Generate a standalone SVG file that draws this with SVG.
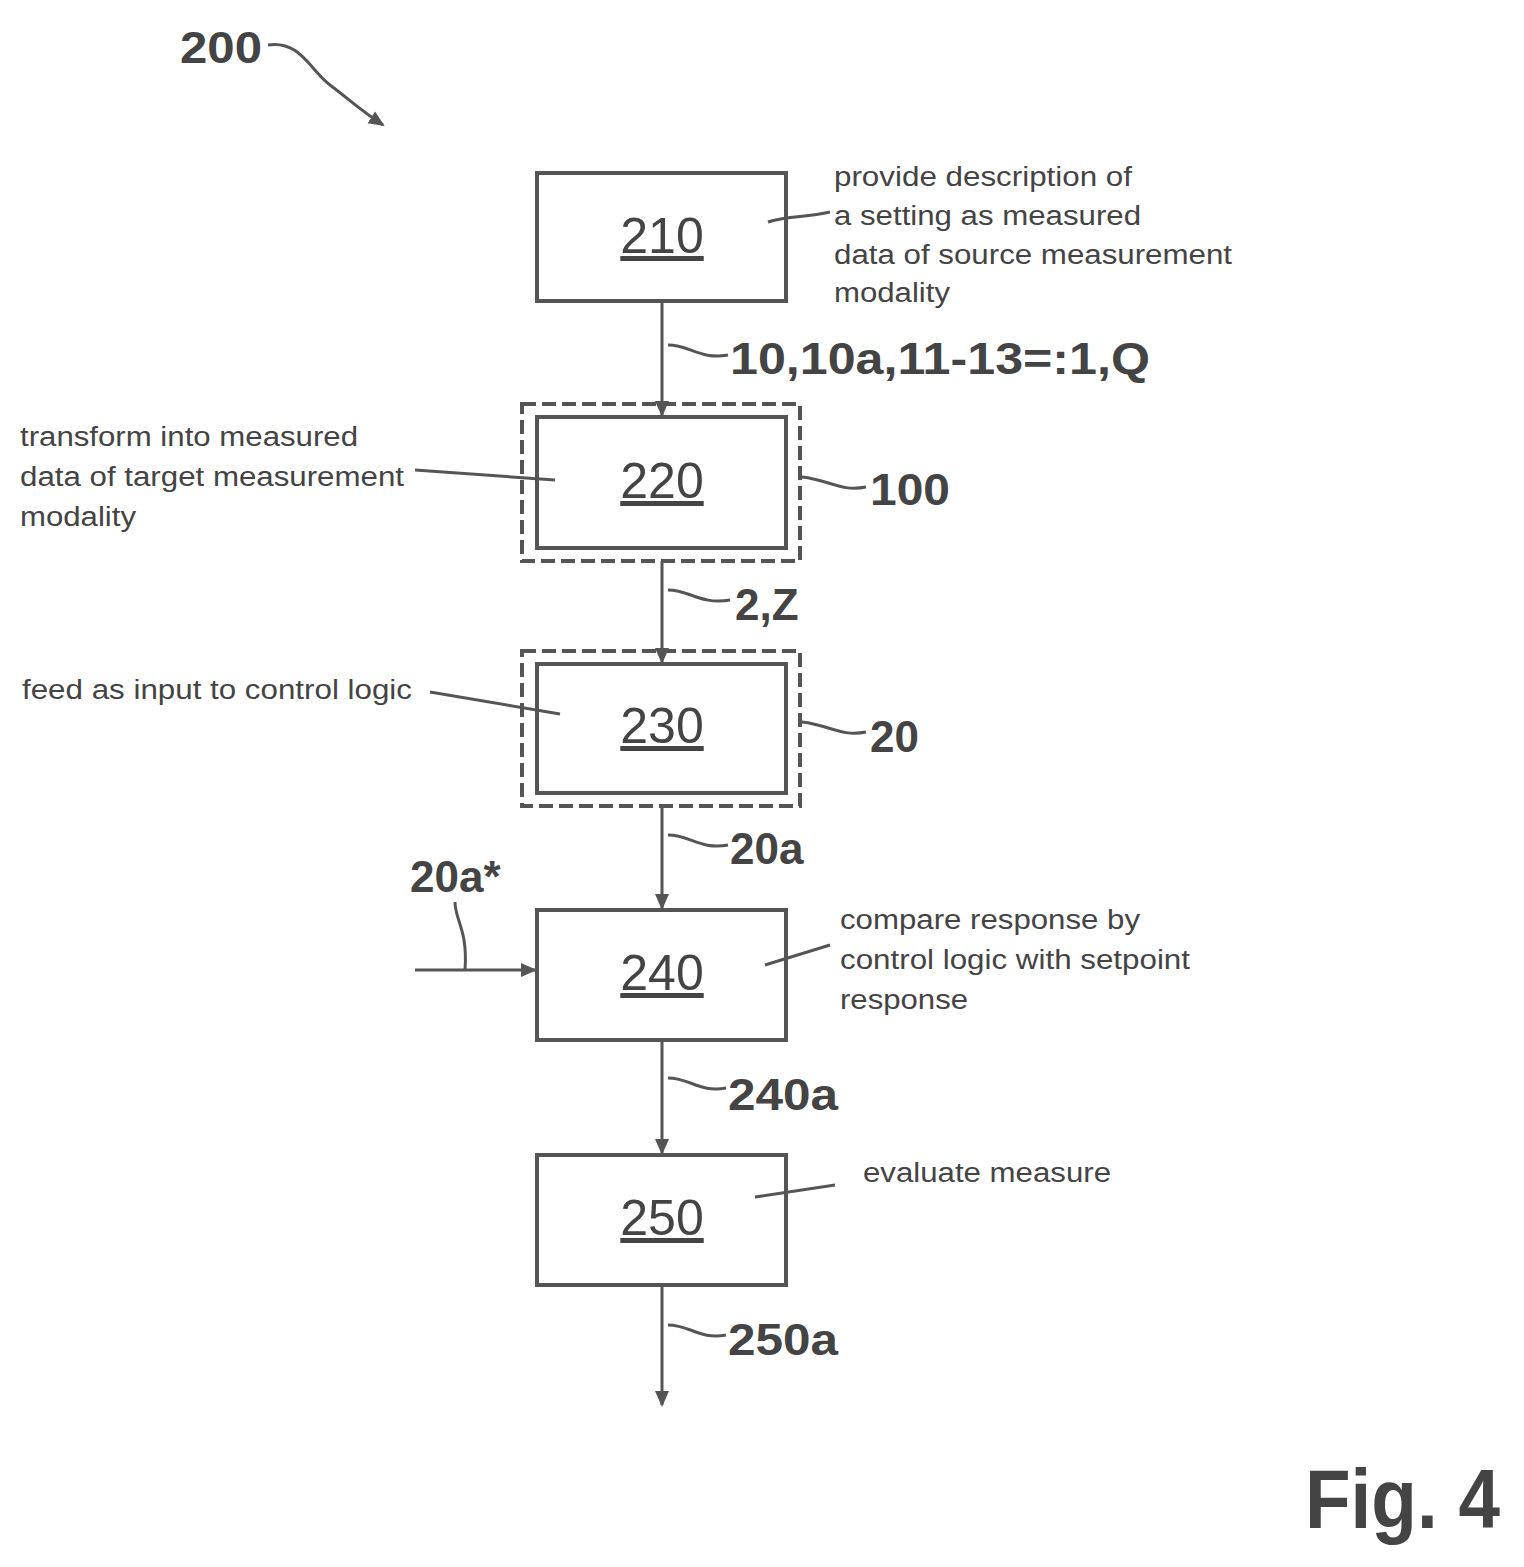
<svg xmlns="http://www.w3.org/2000/svg" width="1524" height="1567" viewBox="0 0 1524 1567">
<style>
.box{fill:none;stroke:#555;stroke-width:4}
.dash{fill:none;stroke:#555;stroke-width:4;stroke-dasharray:14 6}
.ln{fill:none;stroke:#555;stroke-width:3}
.num{font-family:"Liberation Sans",Arial,sans-serif;font-size:50px;fill:#444;text-anchor:middle;text-decoration:underline}
.lbl{font-family:"Liberation Sans",Arial,sans-serif;font-size:44px;font-weight:bold;fill:#444}
.txt{font-family:"Liberation Sans",Arial,sans-serif;font-size:27px;fill:#444}
</style>
<defs>
<marker id="ah" markerWidth="16" markerHeight="16" refX="14" refY="8" orient="auto" markerUnits="userSpaceOnUse">
<path d="M0,1 L16,8 L0,15 Z" fill="#555"/>
</marker>
</defs>
<rect width="1524" height="1567" fill="#fff"/>
<g id="title">
<text class="lbl" x="180" y="63" textLength="82" lengthAdjust="spacingAndGlyphs">200</text>
<path class="ln" d="M268,45 C300,40 310,70 330,85 C350,100 360,110 383,125" marker-end="url(#ah)"/>
</g>
<g id="connectors">
<line class="ln" x1="662" y1="301" x2="662" y2="415" marker-end="url(#ah)"/>
<line class="ln" x1="662" y1="561" x2="662" y2="662" marker-end="url(#ah)"/>
<line class="ln" x1="662" y1="806" x2="662" y2="908" marker-end="url(#ah)"/>
<line class="ln" x1="662" y1="1040" x2="662" y2="1153" marker-end="url(#ah)"/>
<line class="ln" x1="662" y1="1285" x2="662" y2="1405" marker-end="url(#ah)"/>
<line class="ln" x1="415" y1="970" x2="535" y2="970" marker-end="url(#ah)"/>
<path class="ln" d="M668,345 C690,345 700,360 728,355"/>
<path class="ln" d="M668,590 C690,590 700,605 730,600"/>
<path class="ln" d="M668,835 C690,835 700,850 728,845"/>
<path class="ln" d="M668,1078 C690,1078 700,1093 726,1088"/>
<path class="ln" d="M668,1325 C690,1325 700,1340 726,1335"/>
<path class="ln" d="M455,902 C455,920 468,930 465,970"/>
<path class="ln" d="M768,222 C790,215 805,218 830,212"/>
<path class="ln" d="M415,470 L555,480"/>
<path class="ln" d="M430,692 L560,714"/>
<path class="ln" d="M765,965 L830,945"/>
<path class="ln" d="M755,1197 L835,1185"/>
<path class="ln" d="M802,477 C830,480 840,492 866,487"/>
<path class="ln" d="M802,722 C830,725 840,737 866,732"/>
</g>
<g id="n210">
<rect class="box" x="537" y="173" width="249" height="128"/>
<text class="num" x="662" y="253">210</text>
<text class="txt" x="834" y="186" textLength="298" lengthAdjust="spacingAndGlyphs">provide description of</text>
<text class="txt" x="834" y="225" textLength="307" lengthAdjust="spacingAndGlyphs">a setting as measured</text>
<text class="txt" x="834" y="264" textLength="398" lengthAdjust="spacingAndGlyphs">data of source measurement</text>
<text class="txt" x="834" y="302" textLength="116" lengthAdjust="spacingAndGlyphs">modality</text>
<text class="lbl" x="730" y="374" textLength="420" lengthAdjust="spacingAndGlyphs">10,10a,11-13=:1,Q</text>
</g>
<g id="n220">
<rect class="dash" x="522" y="404" width="278" height="157"/>
<rect class="box" x="537" y="417" width="249" height="131"/>
<text class="num" x="662" y="498">220</text>
<text class="txt" x="20" y="446" textLength="338" lengthAdjust="spacingAndGlyphs">transform into measured</text>
<text class="txt" x="20" y="486" textLength="384" lengthAdjust="spacingAndGlyphs">data of target measurement</text>
<text class="txt" x="20" y="526" textLength="116" lengthAdjust="spacingAndGlyphs">modality</text>
<text class="lbl" x="870" y="505" textLength="80" lengthAdjust="spacingAndGlyphs">100</text>
<text class="lbl" x="735" y="620">2,Z</text>
</g>
<g id="n230">
<rect class="dash" x="522" y="651" width="278" height="155"/>
<rect class="box" x="537" y="664" width="249" height="129"/>
<text class="num" x="662" y="743">230</text>
<text class="txt" x="22" y="699" textLength="390" lengthAdjust="spacingAndGlyphs">feed as input to control logic</text>
<text class="lbl" x="870" y="752">20</text>
<text class="lbl" x="730" y="864">20a</text>
</g>
<g id="n240">
<rect class="box" x="537" y="910" width="249" height="130"/>
<text class="num" x="662" y="990">240</text>
<text class="txt" x="840" y="929" textLength="300" lengthAdjust="spacingAndGlyphs">compare response by</text>
<text class="txt" x="840" y="969" textLength="350" lengthAdjust="spacingAndGlyphs">control logic with setpoint</text>
<text class="txt" x="840" y="1009" textLength="128" lengthAdjust="spacingAndGlyphs">response</text>
<text class="lbl" x="410" y="892">20a*</text>
<text class="lbl" x="728" y="1110" textLength="110" lengthAdjust="spacingAndGlyphs">240a</text>
</g>
<g id="n250">
<rect class="box" x="537" y="1155" width="249" height="130"/>
<text class="num" x="662" y="1235">250</text>
<text class="txt" x="863" y="1182" textLength="248" lengthAdjust="spacingAndGlyphs">evaluate measure</text>
<text class="lbl" x="728" y="1355" textLength="110" lengthAdjust="spacingAndGlyphs">250a</text>
</g>
<text x="1305" y="1528" font-family="Liberation Sans,Arial,sans-serif" font-size="84" font-weight="bold" fill="#444" textLength="195" lengthAdjust="spacingAndGlyphs">Fig. 4</text>
</svg>
